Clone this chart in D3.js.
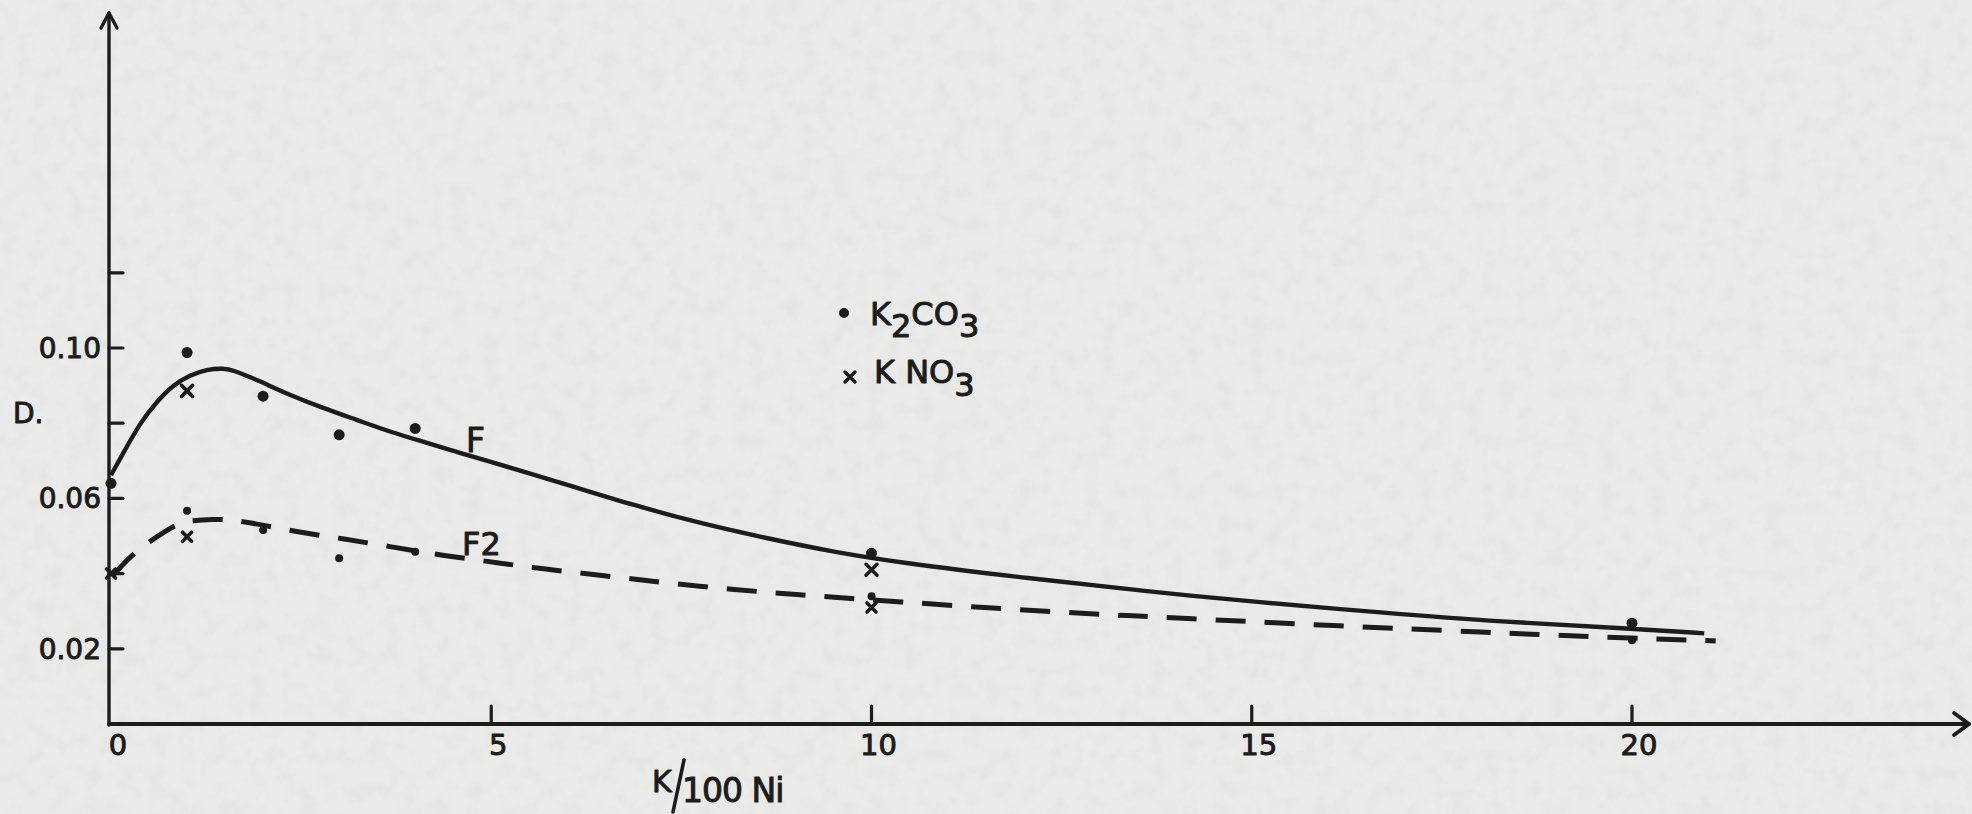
<!DOCTYPE html>
<html>
<head>
<meta charset="utf-8">
<script src="https://cdn.jsdelivr.net/npm/d3@7"></script>
<style>
  html, body { margin: 0; padding: 0; background: #e8e8e6; }
  svg { display: block; }
  text { font-family: "DejaVu Sans", "Liberation Sans", sans-serif; fill: #1c1c1c; stroke: #1c1c1c; stroke-width: 1; stroke-linejoin: round; }
</style>
</head>
<body>
<svg id="chart" width="1972" height="814"></svg>
<script>
// ---- data ----
const xTicks = [5, 10, 15, 20];
const xTickLabels = ["0", "5", "10", "15", "20"];
const xLabelValues = [0, 5, 10, 15, 20];
const yTicks = [0.02, 0.04, 0.06, 0.08, 0.10, 0.12];
const yTickLabelValues = [0.02, 0.06, 0.10];
const yTickLabels = ["0.02", "0.06", "0.10"];

// curve F (solid)
const curveF_x = [0, 0.16, 0.38, 0.6, 0.82, 1.04, 1.26, 1.48, 1.61, 1.92, 2.35, 2.79, 3.23, 3.67, 4.1, 4.54, 4.98, 5.64, 5.99, 6.87, 7.74, 8.62, 9.49, 10.37, 12.08, 13.66, 15.02, 16.72, 18.26, 20, 20.95];
const curveF_y = [0.0662, 0.072, 0.080, 0.0857, 0.0902, 0.0928, 0.0943, 0.0946, 0.0941, 0.0915, 0.0875, 0.0840, 0.0809, 0.0777, 0.0751, 0.0724, 0.0698, 0.0658, 0.0637, 0.0582, 0.0534, 0.0494, 0.0458, 0.0429, 0.0387, 0.0352, 0.0325, 0.0296, 0.0272, 0.0254, 0.0241];

// curve F2 (dashed)
const curveF2_x = [0.03, 0.29, 0.6, 0.86, 1.04, 1.34, 1.61, 2.0, 2.44, 3.01, 3.67, 4.32, 4.98, 5.6, 6.43, 7.74, 9.06, 10.37, 11.8, 13.17, 13.92, 16.11, 18.08, 19.57, 21.1];
const curveF2_y = [0.0396, 0.0454, 0.0498, 0.0532, 0.0541, 0.0545, 0.0543, 0.0529, 0.0511, 0.0494, 0.0472, 0.0449, 0.0432, 0.0414, 0.0396, 0.0365, 0.0343, 0.0325, 0.0305, 0.0290, 0.0283, 0.0261, 0.0244, 0.0231, 0.0221];

// measured points
const k2co3F_x = [0, 1, 2, 3, 4, 10, 20];
const k2co3F_y = [0.064, 0.0988, 0.0872, 0.0769, 0.0786, 0.0454, 0.0268];
const k2co3F2_x = [1, 2, 3, 4, 10, 20];
const k2co3F2_y = [0.0567, 0.0516, 0.0441, 0.0458, 0.034, 0.0223];
const kno3F_x = [1, 10];
const kno3F_y = [0.0886, 0.041];
const kno3F2_x = [0, 1, 10];
const kno3F2_y = [0.040, 0.0498, 0.031];

// ---- drawing ----
const W = 1972, H = 814;
const ink = "#1c1c1c";
const svg = d3.select("#chart");

// paper texture
const defs = svg.append("defs");
const f = defs.append("filter").attr("id", "paper").attr("x", 0).attr("y", 0).attr("width", "100%").attr("height", "100%");
f.append("feTurbulence").attr("type", "fractalNoise").attr("baseFrequency", "0.06").attr("numOctaves", 3).attr("seed", 7).attr("result", "n");
f.append("feColorMatrix").attr("in", "n").attr("type", "matrix")
  .attr("values", "0 0 0 0 0.55  0 0 0 0 0.55  0 0 0 0 0.54  0 0 0 -0.9 0.55");
svg.append("rect").attr("width", W).attr("height", H).attr("fill", "#eaeae8");
svg.append("rect").attr("width", W).attr("height", H).attr("filter", "url(#paper)").attr("opacity", 0.3);

const x = d3.scaleLinear().domain([0, 20]).range([111, 1632]);
const y = d3.scaleLinear().domain([0, 0.10]).range([724, 348]);

const axisX0 = 109, axisY0 = 724;

// axes lines
const g = svg.append("g").attr("stroke", ink).attr("fill", "none").attr("stroke-linecap", "round").attr("stroke-linejoin", "round");
g.append("line").attr("x1", axisX0).attr("x2", axisX0).attr("y1", axisY0 + 1).attr("y2", 13).attr("stroke-width", 3.4);
g.append("line").attr("x1", axisX0).attr("x2", 1969).attr("y1", axisY0).attr("y2", axisY0).attr("stroke-width", 3.8);
// arrow heads
g.append("path").attr("d", `M${axisX0 - 8},28 L${axisX0},13 L${axisX0 + 8},28`).attr("stroke-width", 3.4);
g.append("path").attr("d", `M1954,713 L1969,${axisY0} L1954,735`).attr("stroke-width", 3.8);

// ticks
g.selectAll(".xt").data(xTicks).join("line")
  .attr("x1", d => x(d)).attr("x2", d => x(d))
  .attr("y1", axisY0).attr("y2", axisY0 - 18).attr("stroke-width", 3.2);
g.selectAll(".yt").data(yTicks).join("line")
  .attr("x1", axisX0).attr("x2", axisX0 + 14)
  .attr("y1", d => y(d)).attr("y2", d => y(d)).attr("stroke-width", 3.2);

// tick labels
svg.selectAll(".xl").data(xLabelValues).join("text")
  .attr("x", d => x(d) + 7).attr("y", 755)
  .attr("text-anchor", "middle").attr("font-size", 29)
  .text((d, i) => xTickLabels[i]);
svg.selectAll(".yl").data(yTickLabelValues).join("text")
  .attr("x", 101).attr("y", d => y(d) + 10)
  .attr("text-anchor", "end").attr("font-size", 28)
  .text((d, i) => yTickLabels[i]);

// axis titles
svg.append("text").attr("x", 13).attr("y", 423).attr("font-size", 28).text("D.");
svg.append("text").attr("x", 652).attr("y", 792).attr("font-size", 30).text("K");
svg.append("line").attr("x1", 684).attr("y1", 760).attr("x2", 673).attr("y2", 812)
  .attr("stroke", ink).attr("stroke-width", 3.6).attr("stroke-linecap", "round");
svg.append("text").attr("x", 682).attr("y", 802).attr("font-size", 33).attr("letter-spacing", -1).text("100 Ni");

// curves
const line = d3.line().x(d => x(d[0])).y(d => y(d[1])).curve(d3.curveBasis);
const fData = curveF_x.map((v, i) => [v, curveF_y[i]]);
const f2Data = curveF2_x.map((v, i) => [v, curveF2_y[i]]);
svg.append("path").attr("d", line(fData)).attr("fill", "none").attr("stroke", ink).attr("stroke-width", 4.4);
svg.append("path").attr("d", line(f2Data)).attr("fill", "none").attr("stroke", ink).attr("stroke-width", 5)
  .attr("stroke-dasharray", "30 19").attr("stroke-linecap", "butt");

// curve labels
svg.append("text").attr("x", 466).attr("y", 452).attr("font-size", 33).text("F");
svg.append("text").attr("x", 462).attr("y", 555).attr("font-size", 32).text("F2");

// markers
function dots(xs, ys, r) {
  svg.append("g").selectAll("circle").data(xs.map((v, i) => [v, ys[i]])).join("circle")
    .attr("cx", d => x(d[0])).attr("cy", d => y(d[1])).attr("r", r).attr("fill", ink);
}
function crosses(xs, ys, s) {
  svg.append("g").selectAll("path").data(xs.map((v, i) => [v, ys[i]])).join("path")
    .attr("d", d => {
      const cx = x(d[0]), cy = y(d[1]);
      return `M${cx - s},${cy - s}L${cx + s},${cy + s}M${cx + s},${cy - s}L${cx - s},${cy + s}`;
    })
    .attr("stroke", ink).attr("stroke-width", 3.6).attr("fill", "none").attr("stroke-linecap", "round");
}
dots(k2co3F_x, k2co3F_y, 5.5);
dots(k2co3F2_x, k2co3F2_y, 4);
crosses(kno3F_x, kno3F_y, 5.5);
crosses(kno3F2_x, kno3F2_y, 4.5);

// legend
svg.append("circle").attr("cx", 844).attr("cy", 313).attr("r", 5).attr("fill", ink);
const t1 = svg.append("text").attr("x", 870).attr("y", 325).attr("font-size", 32);
t1.append("tspan").text("K");
t1.append("tspan").attr("dy", 12).text("2");
t1.append("tspan").attr("dy", -12).text("CO");
t1.append("tspan").attr("dy", 12).text("3");
svg.append("path").attr("d", "M845,372L855,382M855,372L845,382")
  .attr("stroke", ink).attr("stroke-width", 3.4).attr("stroke-linecap", "round");
const t2 = svg.append("text").attr("x", 874).attr("y", 383).attr("font-size", 32);
t2.append("tspan").text("K NO");
t2.append("tspan").attr("dy", 13).text("3");
</script>
</body>
</html>
